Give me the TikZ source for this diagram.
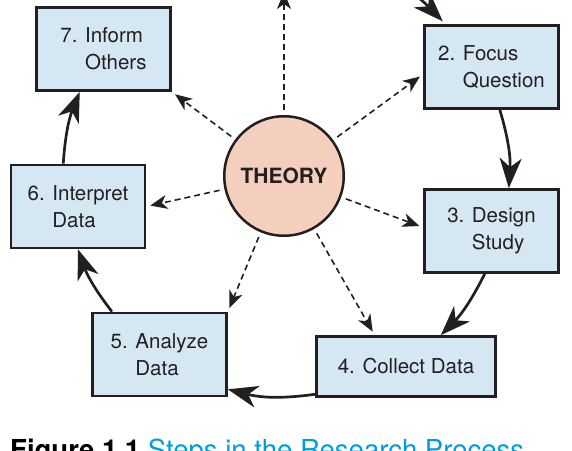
\documentclass[tikz,border=0pt]{standalone}
\usepackage{fontspec}
\setmainfont{TeX Gyre Heros}
\usetikzlibrary{arrows.meta}
\definecolor{boxblue}{RGB}{214,231,244}
\definecolor{theorypink}{RGB}{245,207,190}
\definecolor{inkdark}{RGB}{35,31,32}
\definecolor{captionblue}{RGB}{0,157,220}
\newcommand{\steplines}[3]{#1 #2\\\phantom{#1 }#3}

\begin{document}
\begin{tikzpicture}[x=1pt,y=-1pt,
	stepbox/.style={draw=inkdark,line width=2.7pt,fill=boxblue,inner sep=0pt,
		minimum width=134pt,minimum height=83pt,align=left,text=inkdark,
		font=\fontsize{20.5}{27}\selectfont},
	cyclearrow/.style={draw=inkdark,line width=2.7pt,
		-{Stealth[length=30pt,width=22pt,inset=9pt]}},
	spoke/.style={draw=inkdark,line width=1.6pt,dash pattern=on 6pt off 4pt,
		shorten <=5pt,shorten >=4pt,-{Stealth[length=17pt,width=14pt,inset=5pt]}}]
\useasboundingbox (0,0) rectangle (572,450);
\clip (0,0) rectangle (572,450);
%steps
\node[stepbox] (b7) at (103.5,49) {\steplines{7.}{Inform}{Others}};
\node[stepbox] (b2) at (491.5,67) {\steplines{2.}{Focus}{Question}};
\node[stepbox] (b6) at (78,206.5) {\steplines{6.}{Interpret}{Data}};
\node[stepbox] (b3) at (491.5,231) {\steplines{3.}{Design}{Study}};
\node[stepbox] (b5) at (159.5,354.5) {\steplines{5.}{Analyze}{Data}};
\node[stepbox,minimum width=179pt,minimum height=60pt] (b4) at (406,366.5) {4. Collect Data};
\coordinate (b1) at (341,-38);
\coordinate (up) at (284,-12);
%theory
\node[circle,draw=inkdark,line width=2.5pt,fill=theorypink,minimum size=119.5pt,inner sep=0pt,
	text=inkdark,font=\fontsize{21}{25}\selectfont\bfseries] (theory) at (284,176) {THEORY};
%spokes
\foreach \t in {up,b7.south east,b2.186,b6.east,b3.177,b5.north east,b4.135}{
	\draw[spoke] (theory) -- (\t);
	}
%cycle
\draw[cyclearrow,shorten >=4pt] (b1) to[bend left=15] (b2.137);
\foreach \s/\e/\b in {b2.-79/b3.68/10,b3.-99/b4.42/9,b4.197/b5.-27/11,b5.138/b6.south/9,b6.109/b7.-119/9}{
	\draw[cyclearrow] (\s) to[bend left=\b] (\e);
	}
%caption
\node[anchor=base west,inner sep=0pt,font=\fontsize{27.5}{32}\selectfont] (caption) at (10,459)
	{\textbf{Figure 1.1} \textcolor{captionblue}{Steps in the Research Process}};
\end{tikzpicture}
\end{document}
